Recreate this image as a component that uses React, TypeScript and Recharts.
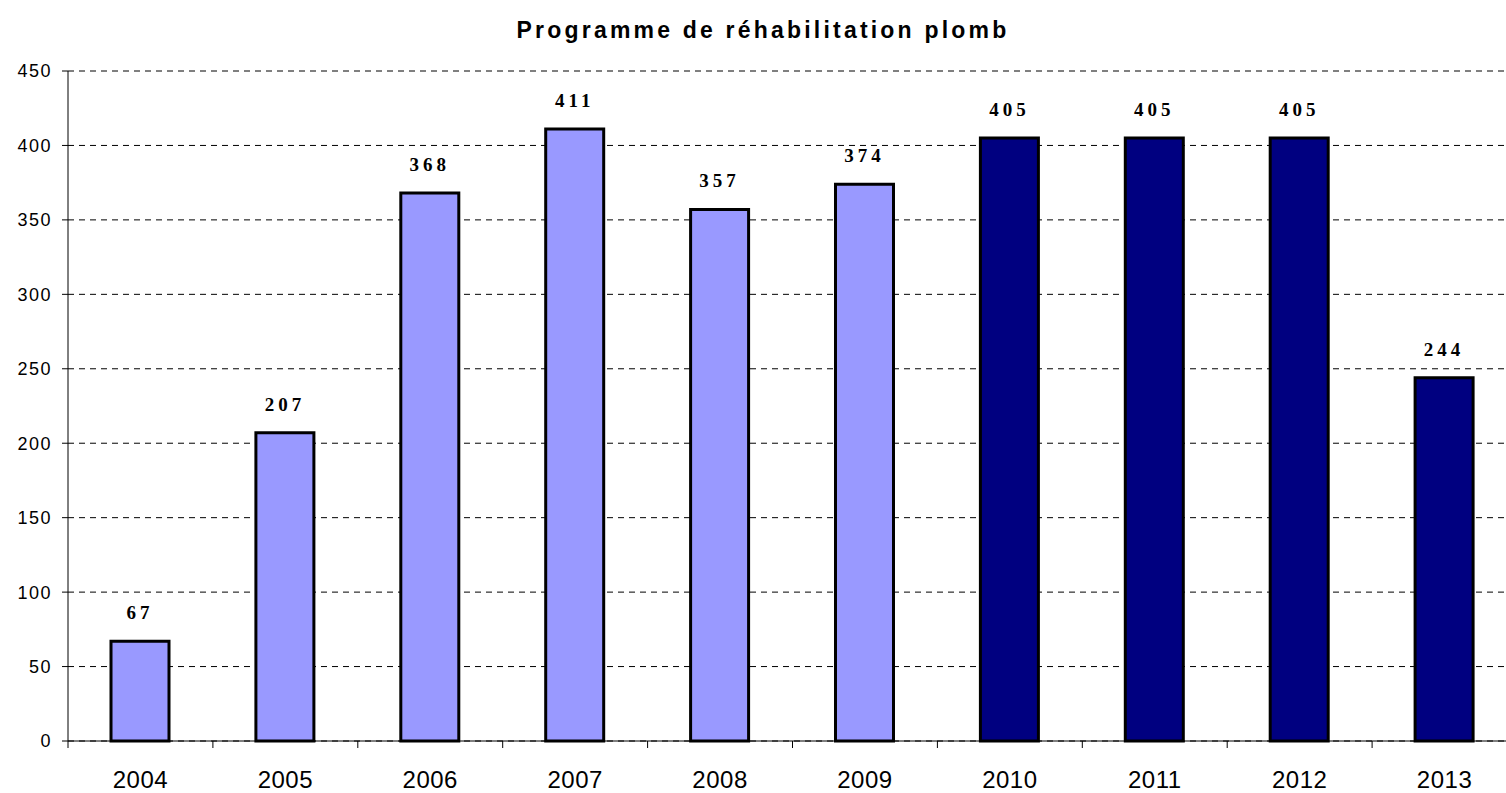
import { BarChart, Bar, XAxis, YAxis, CartesianGrid, LabelList, Cell } from 'recharts';

// Programme de réhabilitation plomb – nombre de branchements par année
const years = ['2004', '2005', '2006', '2007', '2008', '2009', '2010', '2011', '2012', '2013'];
const values = [67, 207, 368, 411, 357, 374, 405, 405, 405, 244];
// the last four years are shown in dark blue
const planned = [false, false, false, false, false, false, true, true, true, true];
const yTicks = [0, 50, 100, 150, 200, 250, 300, 350, 400, 450];

const data = years.map((year, i) => ({ year, value: values[i], planned: planned[i] }));

const CHART_W = 1517;
const CHART_H = 793;
const PLOT_LEFT = 68;
const BAND = (CHART_W - PLOT_LEFT) / years.length;

// Excel-style category ticks: the mark sits between categories, the label under the bar
function YearTick(props: any) {
  const { x, y, payload } = props;
  const left = x - BAND / 2;
  return (
    <g>
      <line x1={left} y1={y - 8} x2={left} y2={y - 1} stroke="#000" strokeWidth={1} />
      <text
        x={x}
        y={y + 39}
        textAnchor="middle"
        fontFamily="Arial, 'Liberation Sans', sans-serif"
        fontSize={24}
        letterSpacing={0.5}
        fill="#000"
      >
        {payload.value}
      </text>
    </g>
  );
}

export default function App() {
  return (
    <div style={{ position: 'absolute', left: 0, top: 0, width: 1506, height: CHART_H, overflow: 'hidden', background: '#fff' }}>
      <div
        style={{
          position: 'absolute',
          top: 17,
          left: 0,
          width: 1526,
          textAlign: 'center',
          fontFamily: "Arial, 'Liberation Sans', sans-serif",
          fontWeight: 'bold',
          fontSize: 23,
          lineHeight: '26px',
          letterSpacing: 3.2,
          color: '#000',
        }}
      >
        Programme de réhabilitation plomb
      </div>
      <BarChart
        width={CHART_W}
        height={CHART_H}
        data={data}
        margin={{ top: 71, right: 0, bottom: 0, left: 0 }}
        barSize={58}
      >
        <CartesianGrid vertical={false} stroke="#000" strokeDasharray="6 5" />
        <XAxis
          dataKey="year"
          height={52}
          axisLine={{ stroke: '#000' }}
          tickLine={false}
          tick={<YearTick />}
          interval={0}
        />
        <YAxis
          width={PLOT_LEFT}
          domain={[0, 450]}
          ticks={yTicks}
          interval={0}
          axisLine={{ stroke: '#000' }}
          tickLine={{ stroke: '#000' }}
          tickSize={6}
          tickMargin={10}
          tick={{ fill: '#000', fontSize: 18, fontFamily: "Arial, 'Liberation Sans', sans-serif", letterSpacing: 1.5 }}
        />
        <Bar dataKey="value" stroke="#000" strokeWidth={3} isAnimationActive={false}>
          {data.map((d) => (
            <Cell key={d.year} fill={d.planned ? '#000080' : '#9999FF'} />
          ))}
          <LabelList
            dataKey="value"
            position="top"
            offset={22}
            fill="#000"
            fontSize={19}
            fontWeight="bold"
            fontFamily="'Liberation Serif', 'Times New Roman', serif"
            letterSpacing={4}
          />
        </Bar>
      </BarChart>
    </div>
  );
}
